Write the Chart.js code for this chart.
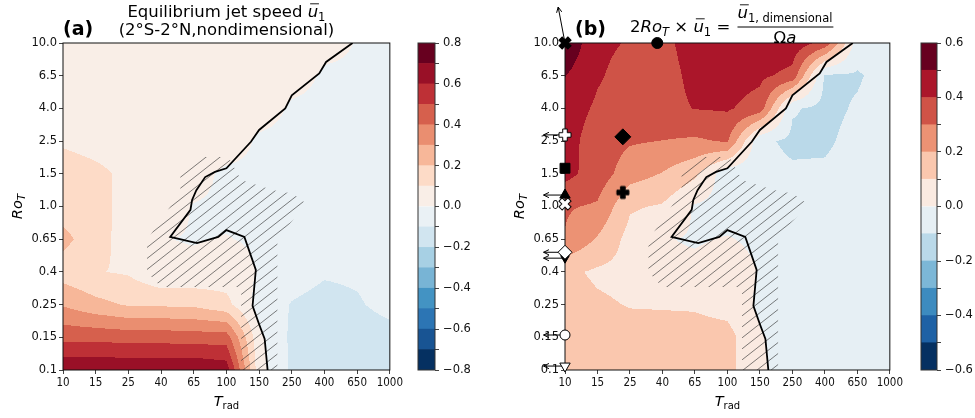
<!DOCTYPE html>
<html>
<head>
<meta charset="utf-8">
<script src="https://cdn.jsdelivr.net/npm/chart.js@4.4.1/dist/chart.umd.min.js"></script>
<style>
  html, body { margin: 0; padding: 0; background: #fff; }
  #page { position: relative; width: 975px; height: 418px; overflow: hidden; }
  canvas { position: absolute; top: 0; }
</style>
</head>
<body>
<div id="page">
  <canvas id="panelA" width="405" height="418" style="left:0px"></canvas>
  <canvas id="barA" width="95" height="418" style="left:405px"></canvas>
  <canvas id="panelB" width="405" height="418" style="left:500px"></canvas>
  <canvas id="barB" width="70" height="418" style="left:905px"></canvas>
</div>
<script>
// axes: evenly spaced categories, positions are the index in these lists
const xTickLabels = ['10', '15', '25', '40', '65', '100', '150', '250', '400', '650', '1000'];
const yTickLabels = ['0.1', '0.15', '0.25', '0.4', '0.65', '1.0', '1.5', '2.5', '4.0', '6.5', '10.0'];

const levelsA = [-0.8, -0.7, -0.6, -0.5, -0.4, -0.3, -0.2, -0.1, 0, 0.1, 0.2, 0.3, 0.4, 0.5, 0.6, 0.7, 0.8];
const levelsB = [-0.6, -0.5, -0.4, -0.3, -0.2, -0.1, 0, 0.1, 0.2, 0.3, 0.4, 0.5, 0.6];

// (a) equilibrium jet speed, rows go from Ro=0.1 (first) to Ro=10 (last)
const jetSpeed = [
  [0.69, 0.69, 0.68, 0.68, 0.69, 0.66, 0.035, -0.115, -0.16, -0.16, -0.15],
  [0.47, 0.47, 0.46, 0.46, 0.45, 0.45, 0.025, -0.12, -0.15, -0.15, -0.134],
  [0.29, 0.23, 0.19, 0.185, 0.18, 0.13, -0.037, -0.105, -0.13, -0.11, -0.07],
  [0.154, 0.105, 0.089, 0.015, 0.02, 0.045, -0.005, -0.06, -0.09, -0.085, -0.06],
  [0.227, 0.146, 0.05, 0.003, -0.005, 0.003, -0.01, -0.03, -0.04, -0.04, -0.04],
  [0.155, 0.144, 0.056, 0.045, -0.005, -0.015, -0.025, -0.025, -0.025, -0.0225, -0.02],
  [0.143, 0.119, 0.081, 0.065, 0.04, -0.0217, -0.0233, -0.0283, -0.0283, -0.02, -0.0167],
  [0.088, 0.0702, 0.062, 0.0596, 0.057, 0.062, -0.016, -0.024, -0.022, -0.014, -0.01],
  [0.0563, 0.0481, 0.045, 0.0469, 0.0504, 0.0513, 0.045, -0.0113, -0.015, -0.011, -0.0063],
  [0.0387, 0.0315, 0.0281, 0.0285, 0.0323, 0.0338, 0.0323, 0.0285, -0.0088, -0.0085, -0.0046],
  [0.0295, 0.021, 0.0197, 0.019, 0.0217, 0.0235, 0.024, 0.023, 0.0185, -0.0025, -0.0025]
];

// (b) 2 Ro_T x u1, same layout
const jetScaled = [
  [0.138, 0.138, 0.136, 0.136, 0.138, 0.132, 0.007, -0.023, -0.032, -0.032, -0.03],
  [0.141, 0.141, 0.138, 0.138, 0.135, 0.135, 0.0075, -0.036, -0.045, -0.045, -0.04],
  [0.145, 0.115, 0.095, 0.0925, 0.09, 0.065, -0.0185, -0.0525, -0.065, -0.055, -0.035],
  [0.123, 0.084, 0.071, 0.012, 0.016, 0.036, -0.004, -0.048, -0.072, -0.068, -0.048],
  [0.295, 0.19, 0.065, 0.004, -0.0065, 0.004, -0.013, -0.039, -0.052, -0.052, -0.052],
  [0.31, 0.288, 0.112, 0.09, -0.01, -0.03, -0.05, -0.05, -0.05, -0.045, -0.04],
  [0.43, 0.357, 0.243, 0.195, 0.12, -0.065, -0.07, -0.085, -0.085, -0.06, -0.05],
  [0.44, 0.351, 0.31, 0.298, 0.285, 0.31, -0.08, -0.12, -0.115, -0.07, -0.05],
  [0.45, 0.385, 0.36, 0.375, 0.403, 0.41, 0.36, -0.09, -0.125, -0.09, -0.05],
  [0.503, 0.41, 0.365, 0.37, 0.42, 0.44, 0.42, 0.37, -0.115, -0.11, -0.06],
  [0.59, 0.42, 0.393, 0.38, 0.433, 0.47, 0.48, 0.46, 0.37, -0.05, -0.05]
];

// zero line (in axis index units)
const zeroLineT = [8.86, 8.05, 7.84, 7.0, 6.8, 6.0, 5.75, 5.0, 4.65, 4.35, 4.08, 3.95, 3.9, 3.28, 4.1, 4.75, 5.0, 5.55, 5.9, 5.8, 6.0, 6.17, 6.26];
const zeroLineRo = [10, 9.42, 9.07, 8.4, 8.0, 7.34, 6.98, 6.17, 6.06, 5.9, 5.5, 5.2, 4.9, 4.07, 3.88, 4.07, 4.28, 4.07, 3.06, 1.96, 1.4, 0.95, 0];

// hatched region outline
const hatchT = [2.57, 3.59, 3.59, 4.1, 5.06, 5.45, 6.2, 6.65, 7.0, 7.49, 7.1, 6.56, 6.56, 5.45, 5.45, 3.0, 2.57, 2.57];
const hatchRo = [3.98, 5.44, 6.12, 6.51, 6.51, 5.81, 5.57, 5.44, 5.41, 5.05, 4.65, 4.07, 0, 0, 2.54, 2.54, 3.0, 3.98];

// markers on panel (b)
const markerT = [0, 2.84, 0, 0, 0, 0, 0, 0, 0, 0, 1.78, 1.78];
const markerRo = [10, 10, 7.19, 6.17, 5.35, 5.08, 3.42, 3.6, 1.07, 0.12, 7.13, 5.43];
const markerShape = ['X', 'circle', 'P', 'rect', 'triangle', 'X', 'triangleDown', 'rectRot', 'circle', 'triangleDown', 'rectRot', 'P'];
const markerFill = ['#000', '#000', '#fff', '#000', '#000', '#fff', '#000', '#fff', '#fff', '#fff', '#000', '#000'];
const markerSize = [6, 5.5, 6, 7, 6, 6, 5, 7, 5, 6, 8, 6];

// arrows for points that lie off the axis
const arrowFromT = [0, 0, 0, 0, 0, 0, 0];
const arrowFromRo = [10, 7.19, 5.35, 3.6, 3.42, 1.07, 0.12];
const arrowToT = [-0.21, -0.66, -0.66, -0.66, -0.66, -0.66, -0.66];
const arrowToRo = [11.1, 7.19, 5.35, 3.6, 3.42, 1.07, 0.12];

const FONT = "'DejaVu Sans'";
const rdbuR = ['#053061', '#2166ac', '#4393c3', '#92c5de', '#d1e5f0', '#f7f7f7', '#fddbc7', '#f4a582', '#d6604d', '#b2182b', '#67001f'];

function hexRgb(h) {
  return [1, 3, 5].map(i => parseInt(h.slice(i, i + 2), 16));
}

function binColors(n) {
  const out = [];
  for (let k = 0; k < n; k++) {
    const t = k / (n - 1) * 10;
    const i = Math.min(Math.floor(t), 9), f = t - i;
    const a = hexRgb(rdbuR[i]), b = hexRgb(rdbuR[i + 1]);
    out.push(a.map((c, m) => Math.round(c + (b[m] - c) * f)));
  }
  return out;
}

function sample(grid, gx, gy) {
  const n = grid[0].length - 1, m = grid.length - 1;
  const i = Math.max(0, Math.min(n - 1, Math.floor(gx)));
  const j = Math.max(0, Math.min(m - 1, Math.floor(gy)));
  const fx = Math.max(0, Math.min(1, gx - i)), fy = Math.max(0, Math.min(1, gy - j));
  return (1 - fx) * (1 - fy) * grid[j][i] + fx * (1 - fy) * grid[j][i + 1] +
         (1 - fx) * fy * grid[j + 1][i] + fx * fy * grid[j + 1][i + 1];
}

// filled contours painted pixel by pixel through the chart scales
function drawField(ctx, a, xs, ys, grid, levels) {
  const left = Math.round(a.left), top = Math.round(a.top);
  const w = Math.round(a.right) - left, h = Math.round(a.bottom) - top;
  const colors = binColors(levels.length - 1);
  const off = document.createElement('canvas');
  off.width = w; off.height = h;
  const octx = off.getContext('2d');
  const img = octx.createImageData(w, h);
  for (let py = 0; py < h; py++) {
    const gy = ys.getValueForPixel(top + py + 0.5);
    for (let px = 0; px < w; px++) {
      const gx = xs.getValueForPixel(left + px + 0.5);
      const v = sample(grid, gx, gy);
      let k = 0;
      while (k < levels.length - 2 && v >= levels[k + 1]) k++;
      const c = colors[k], o = (py * w + px) * 4;
      img.data[o] = c[0]; img.data[o + 1] = c[1]; img.data[o + 2] = c[2]; img.data[o + 3] = 255;
    }
  }
  octx.putImageData(img, 0, 0);
  ctx.drawImage(off, left, top);
}

function drawArrows(ctx, xs, ys) {
  ctx.strokeStyle = '#000';
  ctx.lineWidth = 1;
  arrowFromT.forEach((t, k) => {
    const x0 = xs.getPixelForValue(t), y0 = ys.getPixelForValue(arrowFromRo[k]);
    const x1 = xs.getPixelForValue(arrowToT[k]), y1 = ys.getPixelForValue(arrowToRo[k]);
    const ang = Math.atan2(y1 - y0, x1 - x0);
    ctx.beginPath();
    ctx.moveTo(x0, y0);
    ctx.lineTo(x1, y1);
    for (const d of [-0.45, 0.45]) {
      ctx.moveTo(x1, y1);
      ctx.lineTo(x1 - 6 * Math.cos(ang + d), y1 - 6 * Math.sin(ang + d));
    }
    ctx.stroke();
  });
}

// text in pieces: italic letters, subscripts, overbars
function drawRich(ctx, parts, x, y, align) {
  const fonts = parts.map(p => `${p.style || 'normal'} ${p.weight || 'normal'} ${p.size}px ${FONT}`);
  const widths = parts.map((p, i) => { ctx.font = fonts[i]; return ctx.measureText(p.t).width; });
  const total = widths.reduce((s, w) => s + w, 0);
  let cx = align === 'center' ? x - total / 2 : x;
  ctx.textAlign = 'left';
  ctx.textBaseline = 'alphabetic';
  parts.forEach((p, i) => {
    ctx.font = fonts[i];
    ctx.fillText(p.t, cx, y + (p.dy || 0));
    if (p.over) {
      const oy = y - 0.8 * p.size;
      ctx.beginPath();
      ctx.lineWidth = 0.9;
      ctx.moveTo(cx + 0.15 * p.size, oy);
      ctx.lineTo(cx + widths[i] + 0.05 * p.size, oy);
      ctx.stroke();
    }
    cx += widths[i];
  });
  return { start: cx - total, end: cx };
}

function axisTitles(ctx, a, yTitleX) {
  drawRich(ctx, [
    { t: 'T', size: 14.5, style: 'italic' },
    { t: 'rad', size: 10, dy: 3 }
  ], (a.left + a.right) / 2, 406, 'center');
  ctx.save();
  ctx.translate(yTitleX, (a.top + a.bottom) / 2);
  ctx.rotate(-Math.PI / 2);
  drawRich(ctx, [
    { t: 'Ro', size: 14.5, style: 'italic' },
    { t: 'T', size: 10.5, style: 'italic', dy: 3 }
  ], 0, 0, 'center');
  ctx.restore();
}

function titleA(ctx, a) {
  const cx = (a.left + a.right) / 2;
  drawRich(ctx, [
    { t: 'Equilibrium jet speed ', size: 16.5 },
    { t: 'u', size: 16.5, style: 'italic', over: true },
    { t: '1', size: 11.5, dy: 4 }
  ], cx, 17, 'center');
  drawRich(ctx, [{ t: '(2°S-2°N,nondimensional)', size: 16.5 }], cx, 35, 'center');
  drawRich(ctx, [{ t: '(a)', size: 19, weight: 'bold' }], 63, 35, 'left');
}

function titleB(ctx, a) {
  drawRich(ctx, [{ t: '(b)', size: 19, weight: 'bold' }], 75, 35, 'left');
  const lhs = drawRich(ctx, [
    { t: '2', size: 16.5 },
    { t: 'Ro', size: 16.5, style: 'italic' },
    { t: 'T', size: 11.5, style: 'italic', dy: 4 },
    { t: ' × ', size: 16.5 },
    { t: 'u', size: 16.5, style: 'italic', over: true },
    { t: '1', size: 11.5, dy: 4 },
    { t: ' = ', size: 16.5 }
  ], 130, 32, 'left');
  const num = drawRich(ctx, [
    { t: 'u', size: 16.5, style: 'italic', over: true },
    { t: '1, dimensional', size: 11.5, dy: 3.5 }
  ], lhs.end + 2, 18, 'left');
  ctx.beginPath();
  ctx.lineWidth = 1;
  ctx.moveTo(num.start, 27);
  ctx.lineTo(num.end + 1, 27);
  ctx.stroke();
  drawRich(ctx, [
    { t: 'Ω', size: 16.5 },
    { t: 'a', size: 16.5, style: 'italic' }
  ], (num.start + num.end) / 2, 43, 'center');
}

function panelPlugin(cfg) {
  return {
    id: 'panel',
    beforeDatasetsDraw(chart) {
      const { ctx, chartArea: a, scales: { x, y } } = chart;
      ctx.save();
      drawField(ctx, a, x, y, cfg.grid, cfg.levels);
      ctx.strokeStyle = '#111';
      ctx.lineWidth = 1;
      ctx.strokeRect(a.left, a.top, a.right - a.left, a.bottom - a.top);
      if (cfg.arrows) drawArrows(ctx, x, y);
      ctx.restore();
    },
    afterDraw(chart) {
      const { ctx, chartArea: a } = chart;
      ctx.save();
      ctx.fillStyle = '#000';
      ctx.strokeStyle = '#000';
      cfg.title(ctx, a);
      axisTitles(ctx, a, cfg.yTitleX);
      ctx.restore();
    }
  };
}

function hatchPattern() {
  const w = 14, h = 11;
  const c = document.createElement('canvas');
  c.width = w; c.height = h;
  const g = c.getContext('2d');
  g.strokeStyle = 'rgba(40,40,40,0.75)';
  g.lineWidth = 0.8;
  for (const off of [-w, 0, w]) {
    g.beginPath();
    g.moveTo(off - w, 2 * h);
    g.lineTo(off + 2 * w, -h);
    g.stroke();
  }
  return g.createPattern(c, 'repeat');
}

function markerImage(shape, fill, size) {
  const s = Math.ceil(size) + 4;
  const c = document.createElement('canvas');
  c.width = s; c.height = s;
  const g = c.getContext('2d');
  g.translate(s / 2, s / 2);
  if (shape === 'X') g.rotate(Math.PI / 4);
  const L = size / 2 * (shape === 'X' ? 1.05 : 1), hw = size * 0.19;
  const pts = [[-hw, -L], [hw, -L], [hw, -hw], [L, -hw], [L, hw], [hw, hw], [hw, L], [-hw, L], [-hw, hw], [-L, hw], [-L, -hw], [-hw, -hw]];
  g.beginPath();
  pts.forEach(([px, py], k) => (k ? g.lineTo(px, py) : g.moveTo(px, py)));
  g.closePath();
  g.fillStyle = fill;
  g.fill();
  g.lineWidth = 1;
  g.strokeStyle = '#000';
  g.stroke();
  return c;
}

function axisOpts(labels, size, dir) {
  return {
    type: 'linear',
    min: 0,
    max: labels.length - 1,
    afterBuildTicks: ax => { ax.ticks = labels.map((_, k) => ({ value: k })); },
    afterFit: s => { if (dir === 'x') s.height = size; else s.width = size; },
    ticks: {
      callback: v => labels[v],
      autoSkip: false, maxRotation: 0, minRotation: 0, padding: 2, color: '#111',
      font: { family: dir === 'x' ? "'DejaVu Sans Condensed', 'DejaVu Sans'" : FONT, size: 11.5 }
    },
    grid: { drawOnChartArea: false, drawTicks: true, tickLength: 4, color: '#111', lineWidth: 0.8 },
    border: { display: false }
  };
}

function baseDatasets() {
  const hatchPts = hatchT.map((t, k) => ({ x: t, y: hatchRo[k] }));
  const zeroPts = zeroLineT.map((t, k) => ({ x: t, y: zeroLineRo[k] }));
  return [
    { data: hatchPts, showLine: true, fill: 'shape', backgroundColor: hatchPattern(),
      borderWidth: 0, borderColor: 'rgba(0,0,0,0)', pointRadius: 0, order: 3 },
    { data: zeroPts, showLine: true, fill: false, borderColor: '#000', borderWidth: 1.8,
      pointRadius: 0, tension: 0, order: 2 }
  ];
}

function makePanel(id, cfg) {
  return new Chart(document.getElementById(id), {
    type: 'scatter',
    data: { datasets: cfg.datasets },
    options: {
      responsive: false,
      animation: false,
      devicePixelRatio: 1,
      layout: { padding: { top: 43, right: cfg.padRight, left: 0, bottom: 0 } },
      plugins: { legend: { display: false }, tooltip: { enabled: false } },
      scales: {
        x: axisOpts(xTickLabels, 48, 'x'),
        y: axisOpts(yTickLabels, cfg.yWidth, 'y')
      }
    },
    plugins: [panelPlugin(cfg)]
  });
}

function makeColorbar(id, levels, padLeft, axisWidth) {
  const colors = binColors(levels.length - 1);
  return new Chart(document.getElementById(id), {
    type: 'bar',
    data: {
      labels: [''],
      datasets: levels.slice(0, -1).map((lo, k) => ({
        data: [[lo, levels[k + 1]]],
        backgroundColor: `rgb(${colors[k].join(',')})`,
        borderWidth: 0,
        grouped: false,
        barPercentage: 1,
        categoryPercentage: 1
      }))
    },
    options: {
      responsive: false,
      animation: false,
      devicePixelRatio: 1,
      layout: { padding: { top: 43, bottom: 48, left: padLeft, right: 0 } },
      plugins: { legend: { display: false }, tooltip: { enabled: false } },
      scales: {
        x: { display: false },
        y: {
          position: 'right',
          min: levels[0],
          max: levels[levels.length - 1],
          afterBuildTicks: ax => { ax.ticks = levels.map(v => ({ value: v })); },
          afterFit: s => { s.width = axisWidth; },
          ticks: {
            autoSkip: false, padding: 4, color: '#111',
            font: { family: FONT, size: 11.5 },
            callback: v => (Math.abs(Math.round(v * 10)) % 2 === 0 ? v.toFixed(1).replace('-', '\u2212') : '')
          },
          grid: { drawOnChartArea: false, tickLength: 4, color: '#111', lineWidth: 0.8 },
          border: { display: false }
        }
      }
    },
    plugins: [{
      id: 'outline',
      afterDatasetsDraw(chart) {
        const { ctx, chartArea: a } = chart;
        ctx.save();
        ctx.strokeStyle = '#333';
        ctx.lineWidth = 1;
        ctx.strokeRect(a.left, a.top, a.right - a.left, a.bottom - a.top);
        ctx.restore();
      }
    }]
  });
}

// panel (a)
makePanel('panelA', {
  grid: jetSpeed, levels: levelsA, yWidth: 63, padRight: 8, yTitleX: 22,
  title: titleA, datasets: baseDatasets()
});

// panel (b) with the reference markers
const markerDataset = {
  data: markerT.map((t, k) => ({ x: t, y: markerRo[k] })),
  showLine: false,
  clip: false,
  order: 1,
  pointStyle: markerShape.map((s, k) => (s === 'X' || s === 'P') ? markerImage(s, markerFill[k], 2 * markerSize[k])
    : (s === 'triangleDown' ? 'triangle' : s)),
  pointRotation: markerShape.map(s => (s === 'triangleDown' ? 180 : 0)),
  pointRadius: markerSize,
  pointBackgroundColor: markerFill,
  pointBorderColor: '#000',
  pointBorderWidth: 1
};

makePanel('panelB', {
  grid: jetScaled, levels: levelsB, yWidth: 65, padRight: 6, yTitleX: 24, arrows: true,
  title: titleB, datasets: baseDatasets().concat([markerDataset])
});

makeColorbar('barA', levelsA, 13, 65);
makeColorbar('barB', levelsB, 16, 38);
</script>
</body>
</html>
